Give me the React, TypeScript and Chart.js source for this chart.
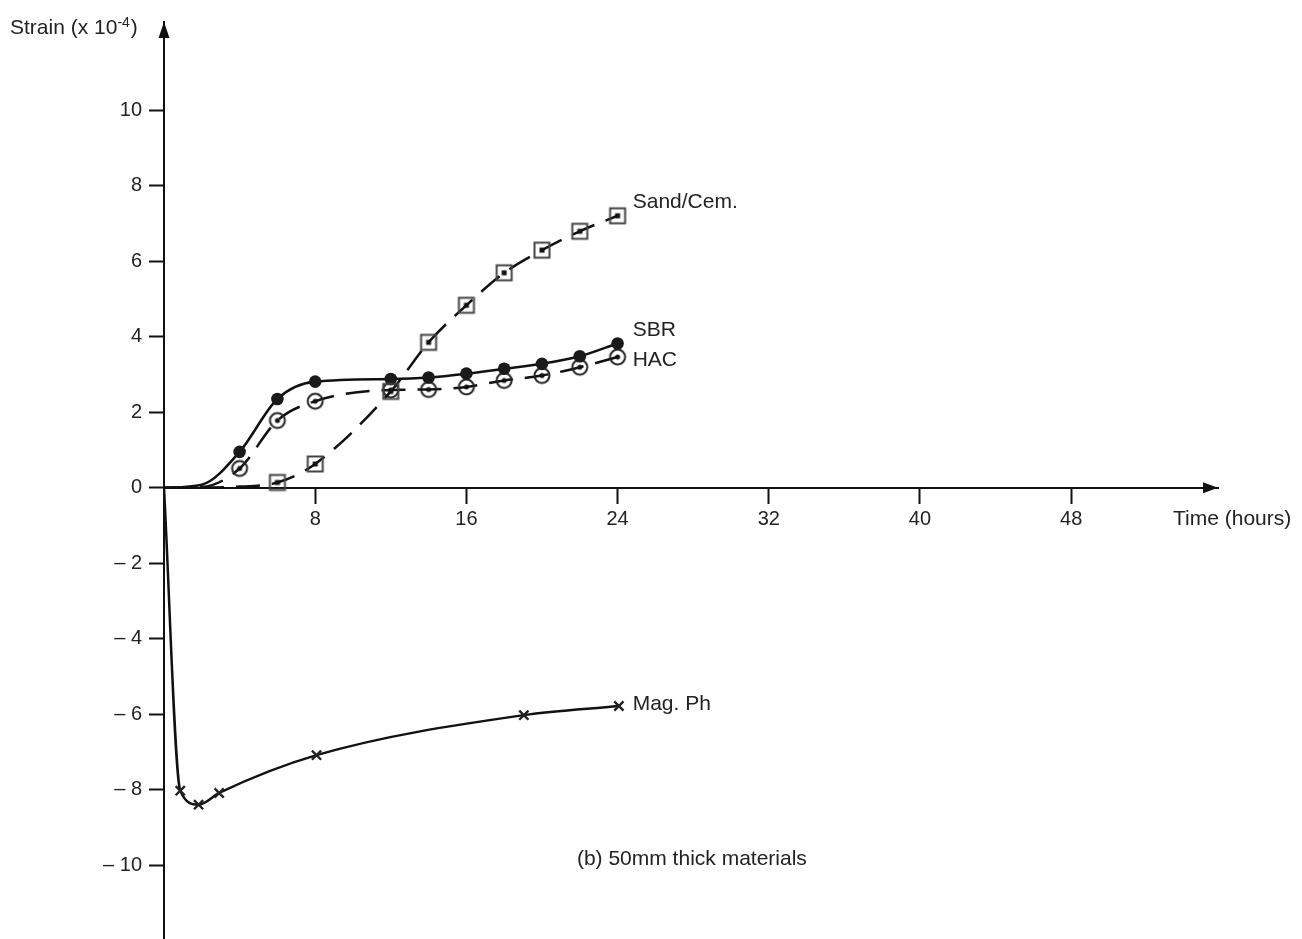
import React, { useEffect, useRef } from 'react';
import { Chart, registerables } from 'chart.js';

Chart.register(...registerables);

// ---- tick values ----
const X_TICKS = [8, 16, 24, 32, 40, 48];
const Y_TICKS = [-10, -8, -6, -4, -2, 0, 2, 4, 6, 8, 10];

const SAND_START_T = [0, 4];
const SAND_START_V = [0, 0.03];
const SAND_T = [6, 8, 12, 14, 16, 18, 20, 22, 24];
const SAND_V = [0.14, 0.63, 2.55, 3.85, 4.83, 5.69, 6.29, 6.79, 7.2];

const SBR_START_T = [0, 2];
const SBR_START_V = [0, 0.08];
const SBR_T = [4, 6, 8, 12, 14, 16, 18, 20, 22, 24];
const SBR_V = [0.95, 2.35, 2.81, 2.88, 2.92, 3.02, 3.15, 3.28, 3.48, 3.82];

const HAC_START_T = [0, 2];
const HAC_START_V = [0, 0.02];
const HAC_T = [4, 6, 8, 12, 14, 16, 18, 20, 22, 24];
const HAC_V = [0.51, 1.78, 2.29, 2.59, 2.6, 2.67, 2.84, 2.97, 3.19, 3.46];

const MAG_START_T = [0];
const MAG_START_V = [0];
const MAG_T = [0.86, 1.83, 2.92, 8.07, 19.04, 24.07];
const MAG_V = [-8.02, -8.39, -8.08, -7.08, -6.02, -5.78];

// ---- curve labels ----
const SERIES_LABELS = ['Sand/Cem.', 'SBR', 'HAC', 'Mag. Ph'];
const SERIES_LABEL_T = 24.8;
const SERIES_LABEL_V = [7.57, 4.17, 3.38, -5.74];

const NOTE_TEXT = '(b) 50mm thick materials';
const NOTE_T = 21.85;
const NOTE_V = -9.84;

const X_TITLE = 'Time (hours)';
const Y_TITLE = 'Strain (x 10';
const Y_TITLE_SUP = '-4';

const FONT = '"Liberation Sans", Arial, Helvetica, sans-serif';
const TEXT_COLOR = '#222';
const LINE_COLOR = '#111';

function pts(st: number[], sv: number[], t: number[], v: number[]) {
  const a = st.map((x, i) => ({ x, y: sv[i] }));
  const b = t.map((x, i) => ({ x, y: v[i] }));
  return a.concat(b);
}

function makeCircleDot(): HTMLCanvasElement {
  const c = document.createElement('canvas');
  c.width = 22; c.height = 22;
  const g = c.getContext('2d')!;
  g.strokeStyle = '#222';
  g.lineWidth = 2;
  g.beginPath(); g.arc(11, 11, 7.5, 0, Math.PI * 2); g.stroke();
  g.fillStyle = '#111';
  g.beginPath(); g.arc(11, 11, 2.5, 0, Math.PI * 2); g.fill();
  return c;
}

function makeSquareDot(): HTMLCanvasElement {
  const c = document.createElement('canvas');
  c.width = 22; c.height = 22;
  const g = c.getContext('2d')!;
  g.strokeStyle = '#444';
  g.lineWidth = 2;
  g.strokeRect(3.5, 3.5, 15, 15);
  g.fillStyle = '#111';
  g.fillRect(8.5, 8.5, 5, 5);
  return c;
}

const zeroPad = (s: any) => {
  s.paddingLeft = 0; s.paddingRight = 0; s.paddingTop = 0; s.paddingBottom = 0;
};

const CANVAS_H = 950;

export default function App() {
  const ref = useRef<HTMLCanvasElement | null>(null);

  useEffect(() => {
    if (!ref.current) return;
    const circleDot = makeCircleDot();
    const squareDot = makeSquareDot();

    const markerRadius = (skip: number, r: number) => (ctx: any) => (ctx.dataIndex < skip ? 0 : r);

    const decor = {
      id: 'decor',
      afterDraw(chart: any) {
        const ctx = chart.ctx;
        const xs = chart.scales.x;
        const ys = chart.scales.y;
        const area = chart.chartArea;
        const y0 = ys.getPixelForValue(0);
        ctx.save();
        // arrowheads
        ctx.fillStyle = LINE_COLOR;
        ctx.beginPath();
        ctx.moveTo(area.left, area.top);
        ctx.lineTo(area.left - 5.5, area.top + 16);
        ctx.lineTo(area.left + 5.5, area.top + 16);
        ctx.closePath();
        ctx.fill();
        ctx.beginPath();
        ctx.moveTo(area.right, y0);
        ctx.lineTo(area.right - 15, y0 - 5.5);
        ctx.lineTo(area.right - 15, y0 + 5.5);
        ctx.closePath();
        ctx.fill();

        ctx.fillStyle = TEXT_COLOR;
        ctx.font = `21px ${FONT}`;
        ctx.textBaseline = 'middle';
        ctx.textAlign = 'left';
        // series labels
        SERIES_LABELS.forEach((s, i) => {
          ctx.fillText(s, xs.getPixelForValue(SERIES_LABEL_T), ys.getPixelForValue(SERIES_LABEL_V[i]));
        });
        // note
        ctx.fillText(NOTE_TEXT, xs.getPixelForValue(NOTE_T), ys.getPixelForValue(NOTE_V));
        // x title
        ctx.fillText(X_TITLE, area.right - 45, y0 + 31);
        // y title
        ctx.textBaseline = 'alphabetic';
        const tx = area.left - 154;
        ctx.fillText(Y_TITLE, tx, 34);
        const w1 = ctx.measureText(Y_TITLE).width;
        ctx.font = `14px ${FONT}`;
        ctx.fillText(Y_TITLE_SUP, tx + w1, 27);
        const w2 = ctx.measureText(Y_TITLE_SUP).width;
        ctx.font = `21px ${FONT}`;
        ctx.fillText(')', tx + w1 + w2 + 1, 34);
        ctx.restore();
      },
    };

    const chart = new Chart(ref.current, {
      type: 'scatter',
      data: {
        datasets: [
          {
            label: 'Sand/Cem.',
            data: pts(SAND_START_T, SAND_START_V, SAND_T, SAND_V),
            showLine: true,
            borderColor: LINE_COLOR,
            borderWidth: 2.5,
            borderDash: [24, 12],
            cubicInterpolationMode: 'monotone',
            pointStyle: squareDot as any,
            pointRadius: markerRadius(SAND_START_T.length, 8) as any,
            backgroundColor: 'transparent',
          },
          {
            label: 'SBR',
            data: pts(SBR_START_T, SBR_START_V, SBR_T, SBR_V),
            showLine: true,
            borderColor: LINE_COLOR,
            borderWidth: 2.5,
            cubicInterpolationMode: 'monotone',
            pointStyle: 'circle',
            pointRadius: markerRadius(SBR_START_T.length, 6.3) as any,
            pointBackgroundColor: '#1a1a1a',
            pointBorderColor: '#1a1a1a',
            pointBorderWidth: 0,
          },
          {
            label: 'HAC',
            data: pts(HAC_START_T, HAC_START_V, HAC_T, HAC_V),
            showLine: true,
            borderColor: LINE_COLOR,
            borderWidth: 2.5,
            borderDash: [24, 12],
            cubicInterpolationMode: 'monotone',
            pointStyle: circleDot as any,
            pointRadius: markerRadius(HAC_START_T.length, 8) as any,
            backgroundColor: 'transparent',
          },
          {
            label: 'Mag. Ph',
            data: pts(MAG_START_T, MAG_START_V, MAG_T, MAG_V),
            showLine: true,
            borderColor: LINE_COLOR,
            borderWidth: 2.5,
            cubicInterpolationMode: 'monotone',
            pointStyle: 'crossRot',
            pointRadius: markerRadius(MAG_START_T.length, 6.5) as any,
            pointBorderColor: '#222',
            pointBorderWidth: 2.4,
          },
        ],
      },
      options: {
        responsive: false,
        devicePixelRatio: 1,
        animation: false,
        events: [],
        layout: { padding: { left: 100, right: 84, top: 22, bottom: 0 } },
        plugins: { legend: { display: false }, tooltip: { enabled: false } },
        scales: {
          x: {
            type: 'linear',
            position: { y: 0 } as any,
            min: 0,
            max: 55.77,
            afterBuildTicks: (s: any) => { s.ticks = X_TICKS.map((v) => ({ value: v })); },
            afterFit: zeroPad,
            border: { display: true, color: LINE_COLOR, width: 2 },
            grid: { display: true, drawOnChartArea: false, drawTicks: true, tickLength: 15, tickWidth: 2, tickColor: LINE_COLOR },
            ticks: { color: TEXT_COLOR, font: { family: FONT, size: 20 }, padding: 5, maxRotation: 0, autoSkip: false },
          },
          y: {
            type: 'linear',
            position: 'left',
            min: -11.96,
            max: 12.33,
            afterBuildTicks: (s: any) => { s.ticks = Y_TICKS.map((v) => ({ value: v })); },
            afterFit: (s: any) => { s.width = 64; zeroPad(s); },
            border: { display: true, color: LINE_COLOR, width: 2 },
            grid: { display: true, drawOnChartArea: false, drawTicks: true, tickLength: 15, tickWidth: 2, tickColor: LINE_COLOR },
            ticks: {
              color: TEXT_COLOR,
              font: { family: FONT, size: 20 },
              padding: 7,
              autoSkip: false,
              callback: (v: any) => (Number(v) < 0 ? '\u2013 ' + String(-Number(v)) : String(v)),
            },
          },
        },
      },
      plugins: [decor],
    });
    return () => chart.destroy();
  }, []);

  return (
    <div style={{ position: 'absolute', left: 0, top: 0, width: 1302, height: 939, overflow: 'hidden', background: '#fff' }}>
      <canvas ref={ref} width={1302} height={CANVAS_H} style={{ display: 'block' }} />
    </div>
  );
}
